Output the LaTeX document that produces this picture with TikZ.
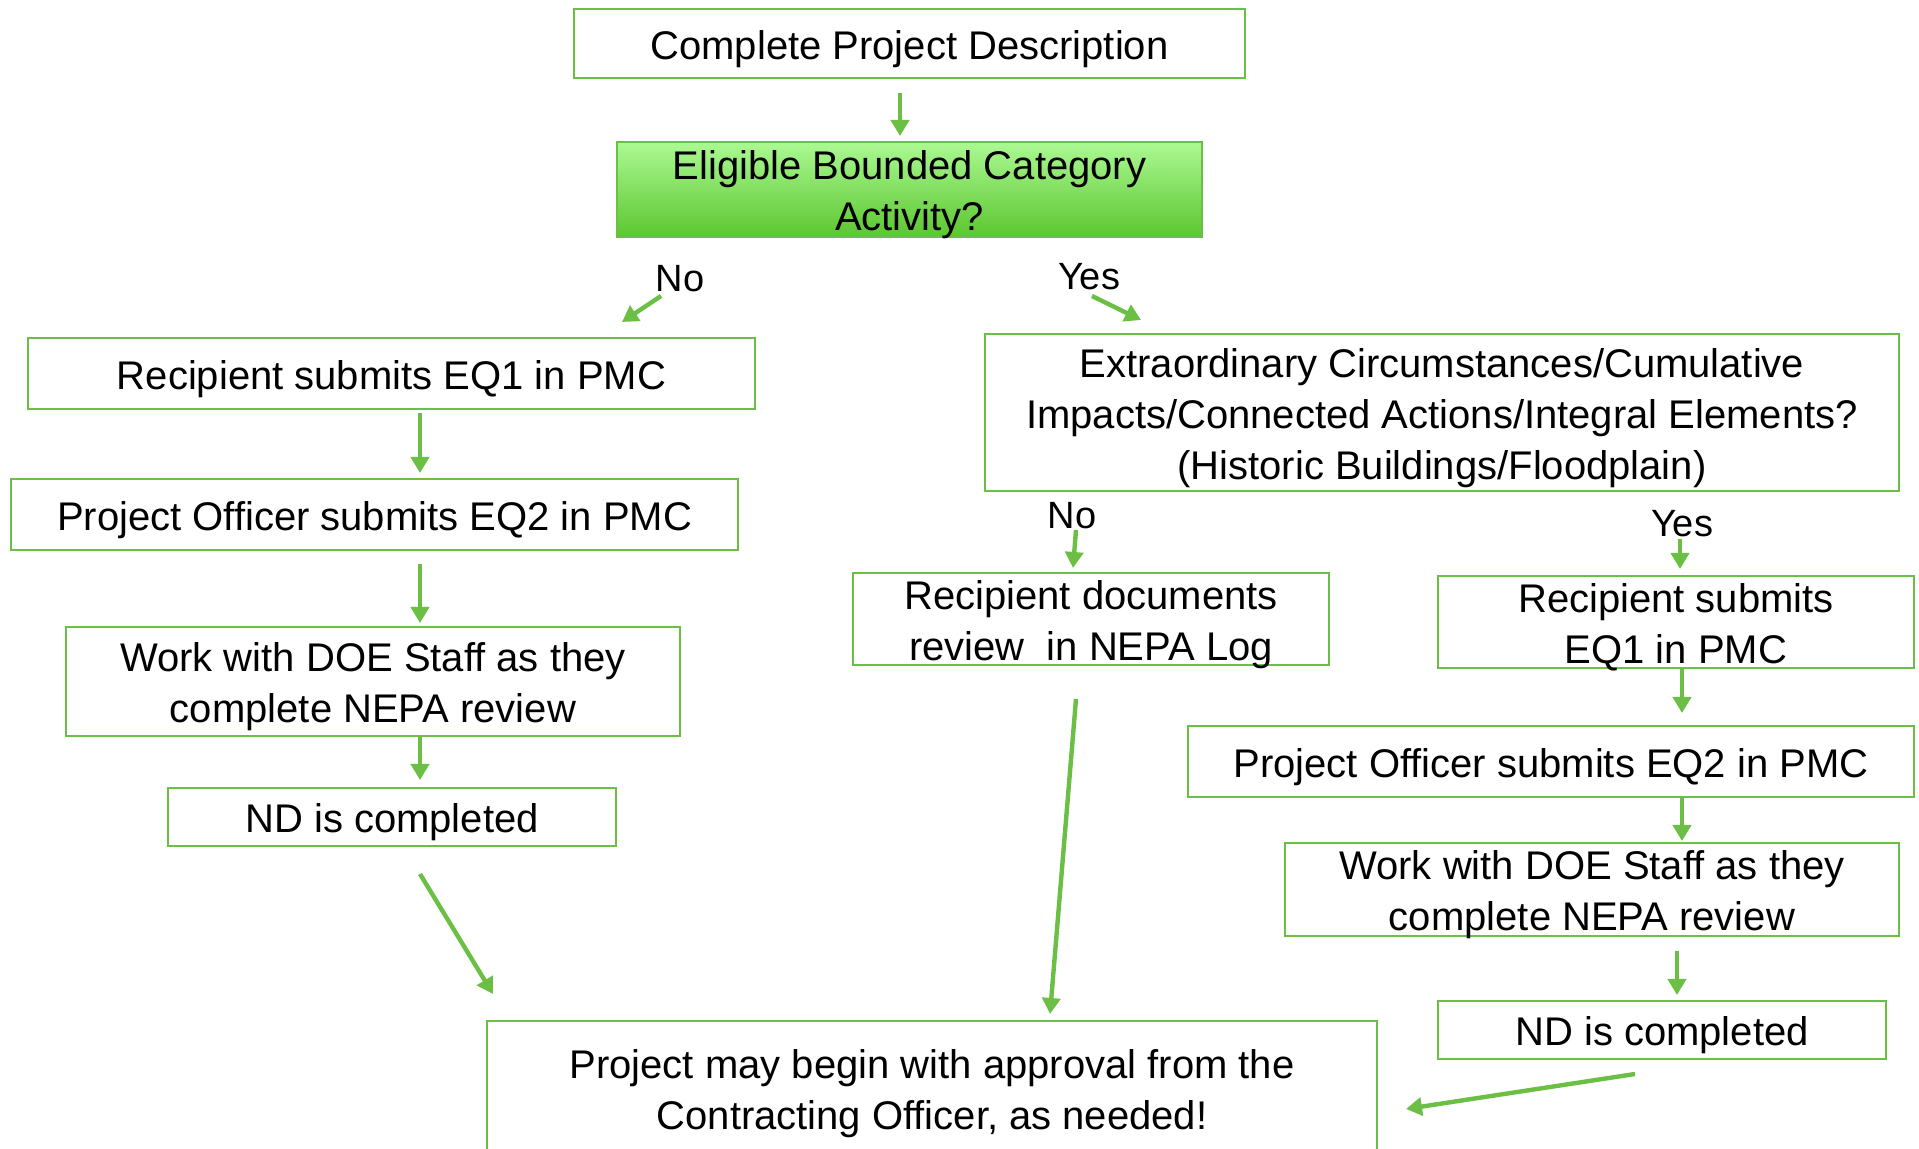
\documentclass[tikz,border=0pt]{standalone}
\usepackage{fontspec}
\setmainfont{Liberation Sans}
\usetikzlibrary{calc,arrows.meta}
\definecolor{boxgreen}{HTML}{6CBF45}
\definecolor{arrgreen}{HTML}{6BBF44}
\definecolor{gtop}{HTML}{ABF993}
\definecolor{gbot}{HTML}{5CC62F}
\newcommand{\tstrut}{\rule{0pt}{20pt}}
\begin{document}
\begin{tikzpicture}[x=0.5pt,y=-0.5pt,
  stepbox/.style={draw=boxgreen, line width=1pt, inner sep=0pt, align=center,
    font=\fontsize{20}{25.5}\selectfont},
  twoline/.style={text height=41.2pt, text depth=0pt},
  threeline/.style={text height=66.7pt, text depth=0pt},
  decbox/.style={stepbox, top color=gtop, bottom color=gbot},
  lbl/.style={inner sep=0pt, font=\fontsize{19}{22}\selectfont},
  arr/.style={draw=arrgreen, line width=2.2pt, -{Triangle[length=8pt,width=9pt]}}]
\useasboundingbox (0,0) rectangle (1919,1149);
% nodes
\node[stepbox, minimum width=335.5pt, minimum height=34.5pt] (b1) at (909.5,43.5) {\tstrut Complete Project Description};
\node[decbox, twoline, minimum width=292.5pt, minimum height=47.5pt] (b2) at (909.5,189.5) {Eligible Bounded Category\\Activity?};
\node[lbl] (noA) at (680,279) {No};
\node[lbl] (yesA) at (1089,277) {Yes};
\node[stepbox, minimum width=363.5pt, minimum height=35.5pt] (l1) at (391.5,373.5) {\tstrut Recipient submits EQ1 in PMC};
\node[stepbox, minimum width=363.5pt, minimum height=35.5pt] (l2) at (374.5,514.5) {\tstrut Project Officer submits EQ2 in PMC};
\node[stepbox, twoline, minimum width=307pt, minimum height=54.5pt] (l3) at (373,681.5) {Work with DOE Staff as they\\complete NEPA review};
\node[stepbox, minimum width=224pt, minimum height=29pt] (l4) at (392,817) {\tstrut ND is completed};
\node[stepbox, twoline, minimum width=445pt, minimum height=67pt] (bot) at (932,1088) {Project may begin with approval from the\\Contracting Officer, as needed!};
\node[stepbox, threeline, minimum width=457pt, minimum height=78.5pt] (r1) at (1442,412.5) {Extraordinary Circumstances/Cumulative\\Impacts/Connected Actions/Integral Elements?\\(Historic Buildings/Floodplain)};
\node[lbl] (noB) at (1072,516) {No};
\node[lbl] (yesB) at (1682,524) {Yes};
\node[stepbox, twoline, minimum width=238pt, minimum height=46pt] (r2) at (1091,619) {Recipient documents\\review~ in NEPA Log};
\node[stepbox, twoline, minimum width=238pt, minimum height=46pt] (r3) at (1676,622) {Recipient submits\\EQ1 in PMC};
\node[stepbox, minimum width=363pt, minimum height=35.5pt] (r4) at (1551,761.5) {\tstrut Project Officer submits EQ2 in PMC};
\node[stepbox, twoline, minimum width=307pt, minimum height=46.5pt] (r5) at (1592,889.5) {Work with DOE Staff as they\\complete NEPA review};
\node[stepbox, minimum width=224pt, minimum height=29pt] (r6) at (1662,1030) {\tstrut ND is completed};
% connectors
\draw[arr] ($(b1.south)+(-9.5,14)$) -- ($(b2.north)+(-9.5,-5)$);
\draw[arr] ($(noA)+(-19,17)$) -- ($(l1.north)+(230.5,-15)$);
\draw[arr] ($(yesA)+(3,19)$) -- ($(r1.north)+(-301,-13)$);
\draw[arr] ($(l1.south)+(28.5,3)$) -- ($(l2.north)+(45.5,-5)$);
\draw[arr] ($(l2.south)+(45.5,13)$) -- ($(l3.north)+(47,-3)$);
\draw[arr] ($(l3.south)+(47,0)$) -- ($(l4.north)+(28,-7)$);
\draw[arr] ($(l4.south)+(28,27)$) -- ($(bot.north)+(-439,-26)$);
\draw[arr] ($(noB)+(4,14)$) -- ($(r2.north)+(-18,-4)$);
\draw[arr] ($(yesB)+(-2,15)$) -- ($(r3.north)+(4,-6)$);
\draw[arr] ($(r2.south)+(-15,33)$) -- ($(bot.north)+(118,-6)$);
\draw[arr] ($(r3.south)+(6,0)$) -- ($(r4.north)+(131,-12)$);
\draw[arr] ($(r4.south)+(131,0)$) -- ($(r5.north)+(90,-1)$);
\draw[arr] ($(r5.south)+(85,14)$) -- ($(r6.north)+(15,-5)$);
\draw[arr] ($(r6.south)+(-27,14)$) -- ($(bot.east)+(28,21)$);
\end{tikzpicture}
\end{document}
